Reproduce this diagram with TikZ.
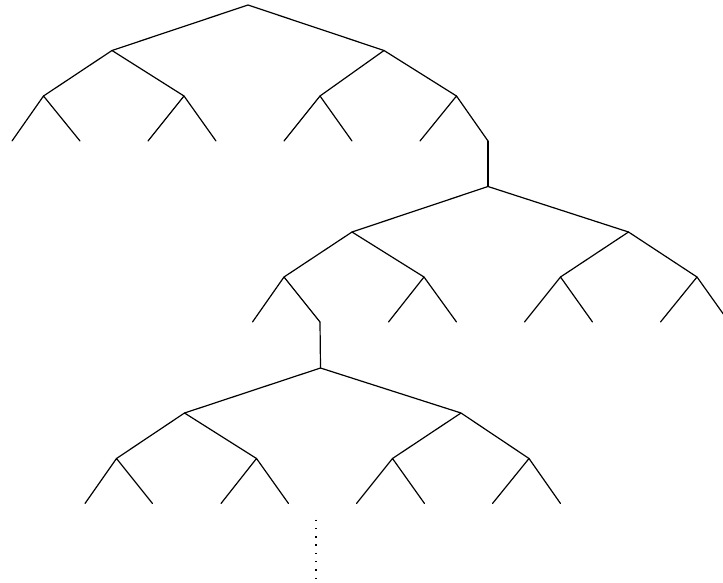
\documentclass[tikz,border=0pt]{standalone}
\begin{document}
\begin{tikzpicture}[x=1pt,y=-1pt,
  edge/.style={line width=1.2pt, line cap=round, line join=round},
  dotline/.style={line width=1.4pt, dash pattern=on 1.4pt off 6.9pt}]
\useasboundingbox (0,0) rectangle (723,583);
\clip (0,0) rectangle (723,583);
% ---- tree 1
\coordinate (A) at (248,5);
\coordinate (A0) at (112,50.5);
\coordinate (A1) at (384,50.5);
\coordinate (A00) at (43.5,96);
\coordinate (A01) at (184,96);
\coordinate (A10) at (320,96);
\coordinate (A11) at (456.5,96);
\coordinate (A000) at (12,141);
\coordinate (A001) at (80,141);
\coordinate (A010) at (148,141);
\coordinate (A011) at (216,141);
\coordinate (A100) at (284,141);
\coordinate (A101) at (352,141);
\coordinate (A110) at (420,141);
\coordinate (A111) at (488,141);
% ---- tree 2
\coordinate (B) at (488,186.5);
\coordinate (B0) at (352,232);
\coordinate (B1) at (628.5,232);
\coordinate (B00) at (284,277);
\coordinate (B01) at (424,277);
\coordinate (B10) at (560.5,277);
\coordinate (B11) at (697,277);
\coordinate (B000) at (252.5,322);
\coordinate (B001) at (320,322);
\coordinate (B010) at (388.5,322);
\coordinate (B011) at (456.5,322);
\coordinate (B100) at (524.5,322);
\coordinate (B101) at (592.5,322);
\coordinate (B110) at (660.5,322);
\coordinate (B111) at (729,322);
% ---- tree 3
\coordinate (C) at (320.5,368);
\coordinate (C0) at (184.5,413);
\coordinate (C1) at (461,413);
\coordinate (C00) at (116.5,458.5);
\coordinate (C01) at (256.5,458.5);
\coordinate (C10) at (392.5,458.5);
\coordinate (C11) at (529,458.5);
\coordinate (C000) at (85,503.5);
\coordinate (C001) at (152.5,503.5);
\coordinate (C010) at (221,503.5);
\coordinate (C011) at (288.5,503.5);
\coordinate (C100) at (356.5,503.5);
\coordinate (C101) at (424.5,503.5);
\coordinate (C110) at (492.5,503.5);
\coordinate (C111) at (560.5,503.5);
% dotted continuation
\coordinate (D0) at (316,519.5);
\coordinate (D1) at (316,580);
% ---- edges
\foreach \t in {A,B,C}{
  \draw[edge] (\t0) -- (\t) -- (\t1);
  \draw[edge] (\t00) -- (\t0) -- (\t01);
  \draw[edge] (\t10) -- (\t1) -- (\t11);
  \draw[edge] (\t000) -- (\t00) -- (\t001);
  \draw[edge] (\t010) -- (\t01) -- (\t011);
  \draw[edge] (\t100) -- (\t10) -- (\t101);
  \draw[edge] (\t110) -- (\t11) -- (\t111);
}
\draw[edge] (A111) -- (B);
\draw[edge] (B001) -- (C);
\draw[dotline] (D0) -- (D1);
\end{tikzpicture}
\end{document}
